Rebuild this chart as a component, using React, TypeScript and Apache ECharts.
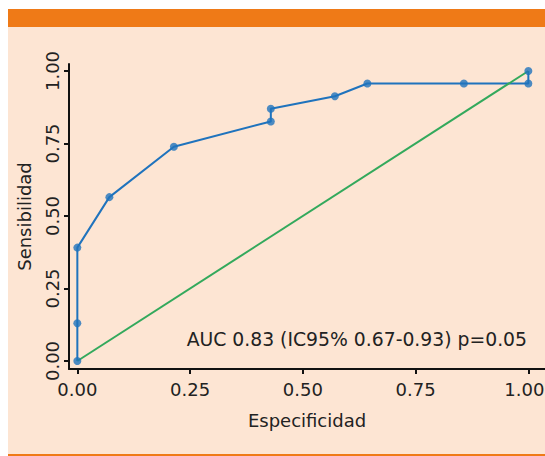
import React, { useEffect, useRef } from "react";
import * as echarts from "echarts";

// ROC curve points (axis labelled "Especificidad", sensitivity)
const fpr = [0, 0, 0, 0.071, 0.214, 0.429, 0.429, 0.571, 0.643, 0.857, 1, 1];
const tpr = [0, 0.13, 0.391, 0.565, 0.739, 0.826, 0.87, 0.913, 0.957, 0.957, 0.957, 1];
// Reference (chance) line
const refX = [0, 1];
const refY = [0, 1];
const tickValues = [0, 0.25, 0.5, 0.75, 1];
const xName = "Especificidad";
const yName = "Sensibilidad";
const aucLabel = "AUC 0.83 (IC95% 0.67-0.93) p=0.05";

const FONT = "'DejaVu Sans', sans-serif";
const TEXT = "#222222";
const BLUE = "#1f73bd";
const GREEN = "#33a95c";
const ORANGE = "#ef7a17";
const PEACH = "#fde5d3";

export default function App() {
  const ref = useRef<HTMLDivElement>(null);
  useEffect(() => {
    if (!ref.current) return;
    const chart = echarts.init(ref.current, undefined, { renderer: "svg" });
    const roc = fpr.map((x, i) => [x, tpr[i]]);
    const diag = refX.map((x, i) => [x, refY[i]]);
    chart.setOption({
      animation: false,
      backgroundColor: PEACH,
      textStyle: { fontFamily: FONT },
      grid: { left: 61, right: 0, top: 56, bottom: 87, containLabel: false, outerBoundsMode: "none" },
      xAxis: {
        type: "value",
        min: -0.0185,
        max: 1.0369,
        name: xName,
        nameLocation: "middle",
        nameGap: 42,
        nameTextStyle: { fontSize: 18, color: TEXT, fontFamily: FONT },
        splitLine: { show: false },
        axisLine: { show: true, onZero: false, lineStyle: { color: "#111", width: 2 } },
        axisTick: { show: true, length: 5, customValues: tickValues, lineStyle: { color: "#111", width: 2 } },
        axisLabel: {
          customValues: tickValues,
          formatter: (v: number) => (v >= 1 ? `{edge|${v.toFixed(2)}}` : v.toFixed(2)),
          fontSize: 18,
          color: TEXT,
          margin: 11,
          fontFamily: FONT,
          rich: {
            edge: { fontSize: 18, color: TEXT, fontFamily: FONT, padding: [0, 8, 0, 0] },
          },
        },
      },
      yAxis: {
        type: "value",
        min: -0.0276,
        max: 1.0241,
        name: yName,
        nameLocation: "middle",
        nameGap: 36,
        nameTextStyle: { fontSize: 18, color: TEXT, fontFamily: FONT },
        splitLine: { show: false },
        axisLine: { show: true, onZero: false, lineStyle: { color: "#111", width: 2 } },
        axisTick: { show: true, length: 5, customValues: tickValues, lineStyle: { color: "#111", width: 2 } },
        axisLabel: {
          customValues: tickValues,
          formatter: (v: number) => v.toFixed(2),
          fontSize: 18,
          color: TEXT,
          margin: 8,
          rotate: 90,
          fontFamily: FONT,
        },
      },
      series: [
        {
          type: "line",
          data: roc,
          showSymbol: false,
          symbol: "none",
          lineStyle: { color: BLUE, width: 2 },
          z: 2,
        },
        {
          type: "line",
          data: diag,
          symbol: "none",
          lineStyle: { color: GREEN, width: 2 },
          z: 3,
        },
        {
          type: "scatter",
          data: roc,
          symbol: "circle",
          symbolSize: 8,
          itemStyle: { color: BLUE },
          z: 4,
        },
      ],
      graphic: [
        { type: "rect", left: 0, top: 0, shape: { width: 537, height: 1 }, style: { fill: "#ffffff" } },
        { type: "rect", left: 0, top: 1, shape: { width: 537, height: 18 }, style: { fill: ORANGE } },
        { type: "rect", left: 0, top: 446, shape: { width: 537, height: 2 }, style: { fill: ORANGE } },
        {
          type: "text",
          right: 18,
          top: 322,
          style: { text: aucLabel, fontSize: 18.8, fill: TEXT, fontFamily: FONT },
        },
      ],
    });
    return () => chart.dispose();
  }, []);
  return (
    <div
      ref={ref}
      style={{ position: "absolute", left: 8, top: 8, width: 537, height: 448 }}
    />
  );
}
